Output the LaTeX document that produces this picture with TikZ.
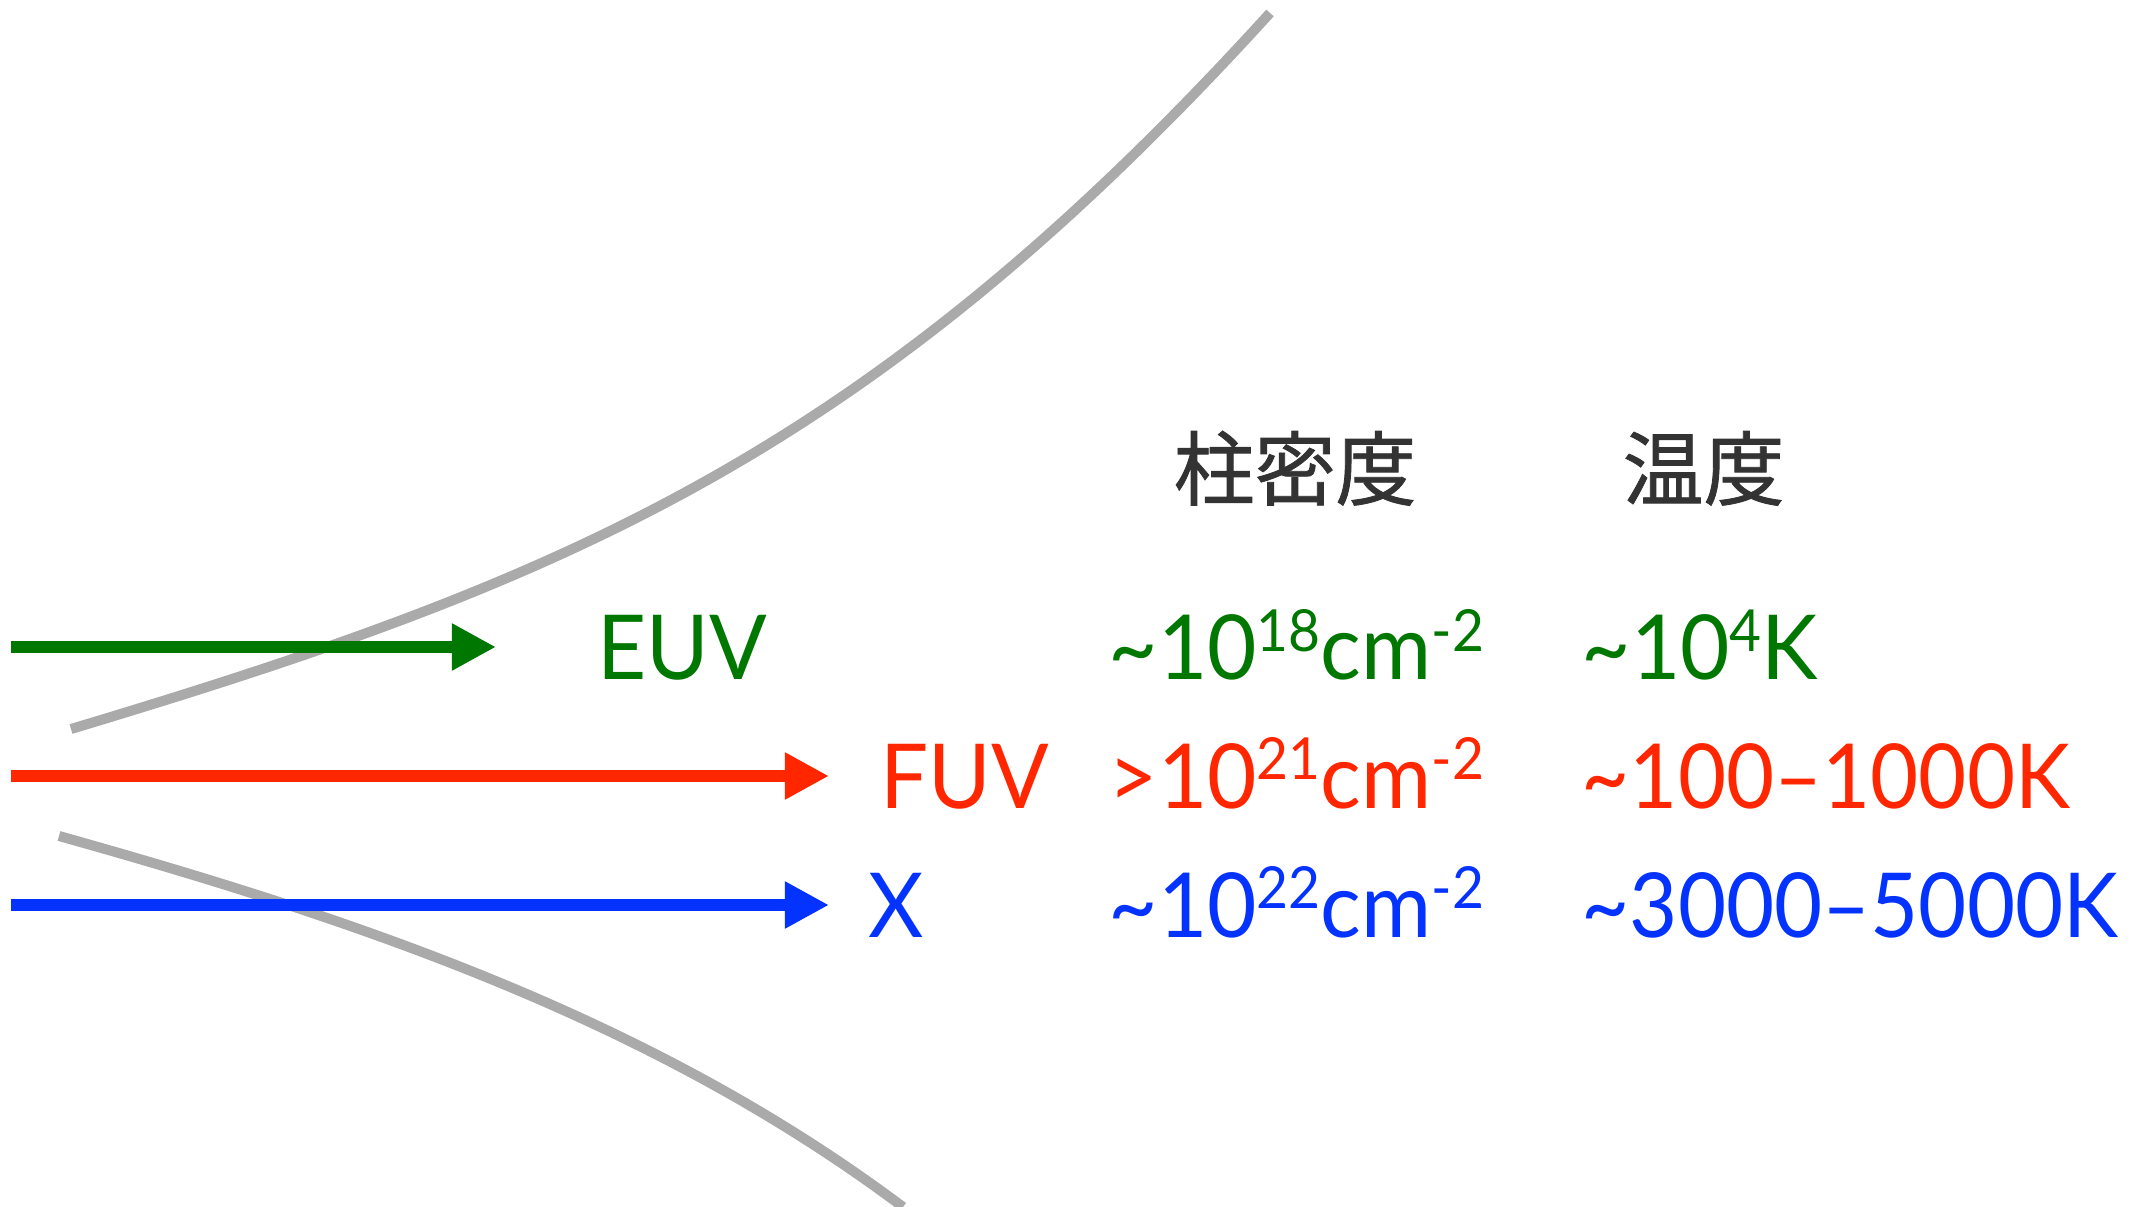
\documentclass[tikz,border=0pt]{standalone}
\usepackage{fontspec}
\setmainfont[FakeStretch=0.95]{Lato}
\newfontfamily\cjk[FakeBold=1]{Noto Sans CJK JP}
\usetikzlibrary{arrows.meta}
\definecolor{euvgreen}{HTML}{007700}
\definecolor{fuvred}{HTML}{FF2600}
\definecolor{xblue}{HTML}{0433FF}
\definecolor{curvegray}{HTML}{AAAAAA}
\definecolor{headgray}{HTML}{333333}
\newcommand\supr[1]{\raisebox{8.2pt}{\fontsize{16.5pt}{16.5pt}\selectfont #1}}
\tikzset{
  ray/.style={line width=1.1mm, -{Triangle[length=4.4mm,width=4.4mm]}},
  lbl/.style={anchor=base west, inner sep=0pt, font=\fontsize{25.5pt}{30pt}\selectfont},
  headlbl/.style={anchor=base west, inner sep=0pt, text=headgray, font=\cjk\fontsize{23pt}{28pt}\selectfont},
  rim/.style={curvegray, line width=1.0mm},
}
\begin{document}
\begin{tikzpicture}[x=0.01cm,y=-0.01cm]
\useasboundingbox (0,0) rectangle (2146,1207);
% cone walls
\draw[rim] (71,729) .. controls (571,579) and (870,453) .. (1270,13);
\draw[rim] (59,836) .. controls (359,920) and (653,1019.5) .. (903,1207);
% rays
\coordinate (euvS) at (11,647);
\coordinate (euvE) at (496,647);
\coordinate (fuvS) at (11,776);
\coordinate (fuvE) at (829,776);
\coordinate (xS) at (11,905);
\coordinate (xE) at (829,905);
\draw[ray, euvgreen] (euvS) -- (euvE);
\draw[ray, fuvred] (fuvS) -- (fuvE);
\draw[ray, xblue] (xS) -- (xE);
% headers
\node[headlbl] (hcol) at (1173,499) {柱密度};
\node[headlbl] (htemp) at (1622,499) {温度};
% labels
\node[lbl, text=euvgreen] (euv) at (597,680) {EUV};
\node[lbl, text=fuvred] (fuv) at (880,808) {FUV};
\node[lbl, text=xblue] (xr) at (868,937) {X};
% column density
\node[lbl, text=euvgreen] (cd1) at (1108,680) {\textasciitilde10\supr{18}cm\supr{-2}};
\node[lbl, text=fuvred] (cd2) at (1108,808) {>10\supr{21}cm\supr{-2}};
\node[lbl, text=xblue] (cd3) at (1108,937) {\textasciitilde10\supr{22}cm\supr{-2}};
% temperature
\node[lbl, text=euvgreen] (t1) at (1581,680) {\textasciitilde10\supr{4}K};
\node[lbl, text=fuvred] (t2) at (1581,808) {\scalebox{0.975}[1]{\textasciitilde100–1000K}};
\node[lbl, text=xblue] (t3) at (1581,937) {\scalebox{0.975}[1]{\textasciitilde3000–5000K}};
\end{tikzpicture}
\end{document}
